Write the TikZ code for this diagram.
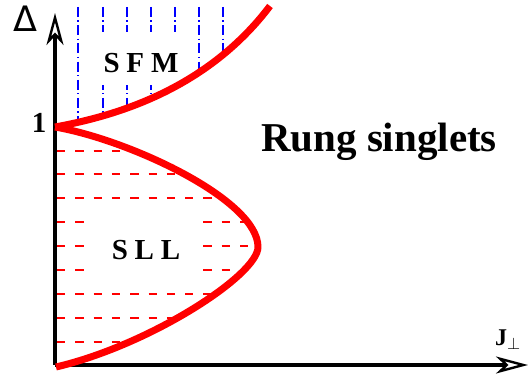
\RequirePackage{fix-cm}
\documentclass[tikz,border=0pt]{standalone}
\usepackage{fontspec}
\setmainfont{Liberation Serif}
\newfontfamily\symbfont{DejaVu Sans}
\usetikzlibrary{arrows.meta}
\begin{document}
\begin{tikzpicture}[x=1pt,y=-1pt,line join=round,
		axis/.style={line width=3.5pt,-{Stealth[open,length=32pt,width=17pt,inset=9pt,line width=2.4pt]}},
		sfm/.style={blue,line width=2.5pt,dash pattern=on 10pt off 3.5pt on 1.2pt off 3.5pt},
		sll/.style={red,line width=2.2pt,dash pattern=on 8.3pt off 10pt},
		phase/.style={red,line width=7pt,line cap=butt},
		mask/.style={fill=white,inner sep=0pt,anchor=base}]
	\useasboundingbox (0,0) rectangle (528,379);
	\coordinate (O) at (55,365);
	\coordinate (ytip) at (55,13);
	\coordinate (xtip) at (528,365);
	\coordinate (cusp) at (55,127);
	\coordinate (top) at (270,6);
	\coordinate (nose) at (258,247);
	\coordinate (foot) at (56,367);
	% S F M hatching above the upper branch
	\begin{scope}
		\clip (cusp) .. controls (110,117) and (205,92) .. (top) -- (55,7) -- cycle;
		\draw[sfm] (78,7) -- (78,130);
		\draw[sfm] (103,7) -- (103,130);
		\draw[sfm] (127,7) -- (127,130);
		\draw[sfm] (151,7) -- (151,130);
		\draw[sfm] (175,7) -- (175,130);
		\draw[sfm] (199,7) -- (199,130);
		\draw[sfm] (223,7) -- (223,130);
	\end{scope}
	% S L L hatching inside the lower branch
	\begin{scope}
		\clip (cusp) .. controls (130,140) and (258,200) .. (nose) .. controls (258,275) and (150,345) .. (foot) -- cycle;
		\draw[sll] (57,151) -- (270,151);
		\draw[sll] (57,174) -- (270,174);
		\draw[sll] (57,198) -- (270,198);
		\draw[sll] (57,222) -- (270,222);
		\draw[sll] (57,246) -- (270,246);
		\draw[sll] (57,270) -- (270,270);
		\draw[sll] (57,294) -- (270,294);
		\draw[sll] (57,318) -- (270,318);
		\draw[sll] (57,342) -- (270,342);
	\end{scope}
	\node[mask,text width=95pt,align=center,text height=41pt,text depth=12pt] (sfmlabel) at (141,73) {\fontsize{29}{29}\selectfont\bfseries S\hspace{0.12em} F\hspace{0.12em} M};
	\node[mask,text width=112pt,align=center,text height=43pt,text depth=15pt] (slllabel) at (146,260) {\fontsize{29}{29}\selectfont\bfseries S\hspace{0.12em} L\hspace{0.12em} L};
	% axes
	\draw[axis] (O) -- (ytip);
	\draw[axis] (O) -- (xtip);
	% phase boundaries
	\draw[phase] (cusp) .. controls (110,117) and (205,92) .. (top);
	\draw[phase] (cusp) .. controls (130,140) and (258,200) .. (nose) .. controls (258,275) and (150,345) .. (foot);
	% labels
	\node[anchor=base] (delta) at (25.5,32) {\fontsize{35}{35}\selectfont\symbfont Δ};
	\node[anchor=base] (one) at (39,133) {\fontsize{29}{29}\selectfont\bfseries 1};
	\node[anchor=base west,inner sep=0pt] (jperp) at (495,346) {\fontsize{24}{24}\selectfont$\mathbf{J}_\perp$};
	\node[anchor=base] (rung) at (379,152) {\fontsize{41}{41}\selectfont\bfseries Rung singlets};
\end{tikzpicture}
\end{document}
